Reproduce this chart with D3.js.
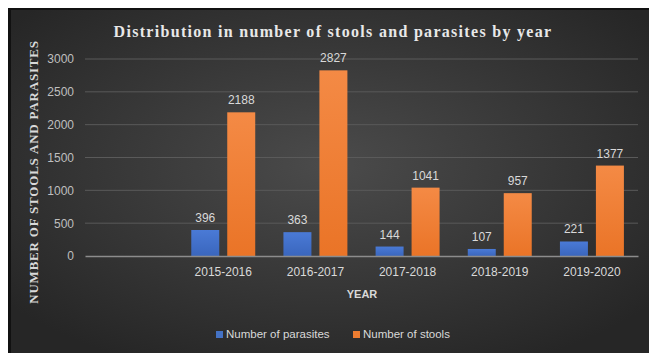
<!DOCTYPE html>
<html><head><meta charset="utf-8">
<script src="https://cdn.jsdelivr.net/npm/d3@7"></script>
<style>body{margin:0;background:#fff}svg{display:block}</style>
</head><body>
<script>
const categories = ["", "2015-2016", "2016-2017", "2017-2018", "2018-2019", "2019-2020"];
const parasites = [null, 396, 363, 144, 107, 221];
const stools = [null, 2188, 2827, 1041, 957, 1377];
const seriesNames = ["Number of parasites", "Number of stools"];
const yTicks = [0, 500, 1000, 1500, 2000, 2500, 3000];

const W = 649, H = 353;
const svg = d3.select("body").append("svg").attr("width", W).attr("height", H);
const defs = svg.append("defs");
const bg = defs.append("radialGradient").attr("id","bg").attr("cx","50%").attr("cy","45%").attr("r","65%");
bg.append("stop").attr("offset","0%").attr("stop-color","#4b4b4b");
bg.append("stop").attr("offset","100%").attr("stop-color","#262626");
const gb = defs.append("linearGradient").attr("id","gb").attr("x1",0).attr("y1",0).attr("x2",0).attr("y2",1);
gb.append("stop").attr("offset","0%").attr("stop-color","#4a7ad6");
gb.append("stop").attr("offset","100%").attr("stop-color","#3a66bd");
const go = defs.append("linearGradient").attr("id","go").attr("x1",0).attr("y1",0).attr("x2",0).attr("y2",1);
go.append("stop").attr("offset","0%").attr("stop-color","#f48a45");
go.append("stop").attr("offset","100%").attr("stop-color","#ea7427");
const fills = ["url(#gb)", "url(#go)"];
const legendColors = ["#4472C4", "#ED7D31"];

svg.append("rect").attr("x",8).attr("y",8).attr("width",W-8).attr("height",H-8).attr("fill","#111");
svg.append("rect").attr("x",11).attr("y",10).attr("width",W-11).attr("height",H-10).attr("fill","url(#bg)");

const x0 = d3.scaleBand().domain(categories).range([85, 638]).paddingInner(0.306).paddingOuter(0.153);
const x1 = d3.scaleBand().domain(seriesNames).range([0, x0.bandwidth()]).paddingInner(0.2222);
const y = d3.scaleLinear().domain([0, 3000]).range([256, 59]);

// gridlines
svg.append("g").selectAll("line").data(yTicks.filter(d=>d>0)).join("line")
  .attr("x1",85).attr("x2",638).attr("y1",d=>y(d)).attr("y2",d=>y(d))
  .attr("stroke","#5a5a5a").attr("stroke-width",1);

// y axis labels
const yAxis = d3.axisLeft(y).tickValues(yTicks).tickFormat(d3.format("d")).tickSize(0).tickPadding(0);
const ya = svg.append("g").attr("transform","translate(74,0)").call(yAxis);
ya.select(".domain").remove();
ya.selectAll("text").attr("fill","#bfbfbf").style("font-family","Liberation Sans, Arial, sans-serif").style("font-size","12px");

// bars
const data = categories.map((c,i)=>({cat:c, vals:[parasites[i], stools[i]]}));
const groups = svg.append("g").selectAll("g").data(data).join("g")
  .attr("transform", d=>`translate(${x0(d.cat)},0)`);
groups.selectAll("rect").data(d=>d.vals.map((v,j)=>({v, j})).filter(e=>e.v!=null)).join("rect")
  .attr("x", e=>x1(seriesNames[e.j])).attr("width", x1.bandwidth())
  .attr("y", e=>y(e.v)).attr("height", e=>y(0)-y(e.v)).attr("fill", e=>fills[e.j]);
groups.selectAll("text").data(d=>d.vals.map((v,j)=>({v, j})).filter(e=>e.v!=null)).join("text")
  .attr("x", e=>x1(seriesNames[e.j]) + x1.bandwidth()/2).attr("y", e=>y(e.v)-8)
  .attr("text-anchor","middle").attr("fill","#d9d9d9")
  .style("font-family","Liberation Sans, Arial, sans-serif").style("font-size","12px").text(e=>e.v);

// x axis
const xAxis = d3.axisBottom(x0).tickSize(0).tickPadding(11);
const xa = svg.append("g").attr("transform",`translate(0,${y(0)})`).call(xAxis);
xa.select(".domain").attr("stroke","#8c8c8c").attr("stroke-width",1.5);
xa.selectAll("text").attr("fill","#d9d9d9").style("font-family","Liberation Sans, Arial, sans-serif").style("font-size","12px");

// titles
svg.append("text").attr("x",333).attr("y",37).attr("text-anchor","middle")
  .attr("fill","#e8e8e8").style("font-family","Liberation Serif, Times New Roman, serif")
  .style("font-size","16px").style("font-weight","bold").style("letter-spacing","1.3px")
  .text("Distribution  in  number of stools and parasites by year");
svg.append("text").attr("transform","translate(38,172) rotate(-90)").attr("text-anchor","middle")
  .attr("fill","#d9d9d9").style("font-family","Liberation Serif, Times New Roman, serif")
  .style("font-size","13px").style("font-weight","bold").style("letter-spacing","0.8px")
  .text("NUMBER OF STOOLS AND PARASITES");
svg.append("text").attr("x",362).attr("y",298).attr("text-anchor","middle")
  .attr("fill","#d9d9d9").style("font-family","Liberation Sans, Arial, sans-serif")
  .style("font-size","11px").style("font-weight","bold").text("YEAR");

// legend
const legX = [216, 353];
const leg = svg.append("g").selectAll("g").data(seriesNames).join("g")
  .attr("transform",(d,i)=>`translate(${legX[i]},331)`);
leg.append("rect").attr("width",7).attr("height",7).attr("fill",(d,i)=>legendColors[i]);
leg.append("text").attr("x",10).attr("y",7).attr("fill","#d9d9d9")
  .style("font-family","Liberation Sans, Arial, sans-serif").style("font-size","11.5px").text(d=>d);
</script>
</body></html>
